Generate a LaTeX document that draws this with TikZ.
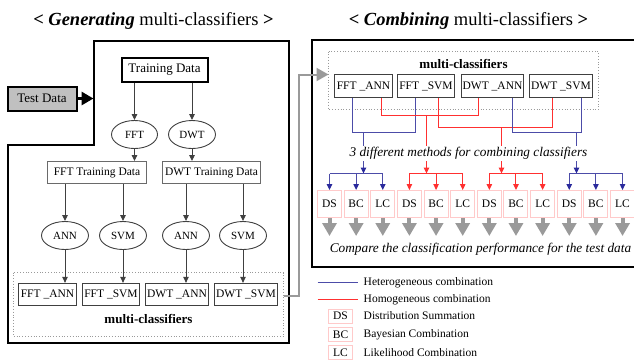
\documentclass[tikz,border=0pt]{standalone}
\usepackage{fontspec}
\setmainfont{Liberation Serif}
\usetikzlibrary{arrows.meta,shapes.geometric}

\definecolor{hetblue}{RGB}{76,76,168}
\definecolor{hettip}{RGB}{42,42,156}
\definecolor{homred}{RGB}{255,48,48}
\definecolor{pinkedge}{RGB}{255,202,202}
\definecolor{edgegray}{RGB}{64,64,64}
\definecolor{softgray}{RGB}{106,106,106}
\definecolor{flowgray}{RGB}{154,154,154}
\definecolor{testfill}{RGB}{192,192,192}

\newcommand{\fsz}[1]{\fontsize{#1}{#1}\selectfont}

\tikzset{
  outline/.style={draw=black, line width=2pt},
  mainbox/.style={draw=black, line width=2pt, inner sep=0pt, font=\fsz{13}},
  databox/.style={draw=softgray, line width=1pt, inner sep=0pt, minimum height=22pt, font=\fsz{11.5}},
  clfbox/.style={draw=edgegray, line width=1.3pt, inner sep=0pt, minimum height=22pt, font=\fsz{11.5}},
  oval/.style={ellipse, draw=edgegray, line width=0.9pt, inner sep=0pt, minimum width=47pt, minimum height=28pt, font=\fsz{11}},
  groupbox/.style={draw=flowgray, line width=0.8pt, dotted},
  flow/.style={draw=edgegray, line width=0.9pt, -{Triangle[length=6pt,width=5.5pt]}},
  hetline/.style={draw=hetblue, line width=1pt},
  homline/.style={draw=homred, line width=1pt},
  hetarrow/.style={hetline, -{Triangle[length=6pt,width=5.5pt,color=hettip]}},
  homarrow/.style={homline, -{Triangle[length=6pt,width=5.5pt]}},
  method/.style={draw=pinkedge, line width=1pt, inner sep=0pt, minimum width=24pt, minimum height=27pt, font=\fsz{11.5}},
  legendbox/.style={draw=pinkedge, line width=1pt, inner sep=0pt, minimum width=24pt, minimum height=14pt, font=\fsz{11.5}},
  legendtext/.style={anchor=west, inner sep=0pt, font=\fsz{11.5}},
  outcome/.style={draw=flowgray, line width=4pt, -{Triangle[length=13pt,width=14pt]}},
  bold/.style={font=\fsz{13}\bfseries},
  title/.style={font=\fsz{18.5}},
  remark/.style={font=\fsz{13.3}\itshape},
}

\begin{document}
\begin{tikzpicture}[x=1pt,y=-1pt]
\useasboundingbox (0,0) rectangle (634,360);
\clip (0,0) rectangle (634,360);

% half-unit offset keeps the thin rules on whole pixels
\begin{scope}[shift={(0.5,0.5)}]

% ---------- titles ----------
\node[title] (ltitle) at (153,20) {\textbf{<} \textbf{\textit{Generating}} multi-classifiers \textbf{>}};
\node[title] (rtitle) at (468,20) {\textbf{<} \textbf{\textit{Combining}} multi-classifiers \textbf{>}};

% ---------- generating stage ----------
\draw[outline] (93,40) -- (288,40) -- (288,342) -- (7,342) -- (7,144) -- (93,144) -- cycle;

\node[mainbox, fill=testfill, minimum width=69pt, minimum height=24pt] (test) at (41.5,98) {Test Data};
\coordinate (gate) at (93,98);
\draw[line width=3pt, -{Triangle[length=12pt,width=13pt]}] (test.east) -- (gate);

\node[mainbox, minimum width=86pt, minimum height=24pt] (train) at (164,69) {Training Data};

\node[oval, minimum width=46pt] (fft) at (134,134) {FFT};
\node[oval, minimum width=47pt] (dwt) at (191.5,134) {DWT};

\node[databox, minimum width=99pt] (ftd) at (96.5,172) {FFT Training Data};
\node[databox, minimum width=98pt] (dtd) at (211,172) {DWT Training Data};

\node[oval] (ann1) at (64.5,235) {ANN};
\node[oval] (svm1) at (122.5,235) {SVM};
\node[oval] (ann2) at (185.5,235) {ANN};
\node[oval] (svm2) at (242.5,235) {SVM};

\draw[groupbox] (13,272) rectangle (283,336);
\node[clfbox, minimum width=58pt] (c1) at (47,294) {FFT \_ANN};
\node[clfbox, minimum width=57pt] (c2) at (110.5,294) {FFT \_SVM};
\node[clfbox, minimum width=63pt] (c3) at (176.5,294) {DWT \_ANN};
\node[clfbox, minimum width=63pt] (c4) at (245.5,294) {DWT \_SVM};
\node[bold] (lgroup) at (148,318) {multi-classifiers};

\draw[flow] (fft |- train.south) -- (fft.north);
\draw[flow] (dwt |- train.south) -- (dwt.north);
\draw[flow] (fft.south) -- (fft |- ftd.north);
\draw[flow] (dwt.south) -- (dwt |- dtd.north);
\draw[flow] (ann1 |- ftd.south) -- (ann1.north);
\draw[flow] (svm1 |- ftd.south) -- (svm1.north);
\draw[flow] (ann2 |- dtd.south) -- (ann2.north);
\draw[flow] (svm2 |- dtd.south) -- (svm2.north);
\draw[flow] (ann1.south) -- (ann1 |- c1.north);
\draw[flow] (svm1.south) -- (svm1 |- c2.north);
\draw[flow] (ann2.south) -- (ann2 |- c3.north);
\draw[flow] (svm2.south) -- (svm2 |- c4.north);

% ---------- combining stage ----------
\draw[outline] (650,39) -- (311,39) -- (311,266) -- (650,266);

\draw[groupbox] (328,51) rectangle (598,109);
\node[bold] (rgroup) at (463,63) {multi-classifiers};
\node[clfbox, minimum width=58pt, minimum height=23pt] (r1) at (363,85.5) {FFT \_ANN};
\node[clfbox, minimum width=57pt, minimum height=23pt] (r2) at (425.5,85.5) {FFT \_SVM};
\node[clfbox, minimum width=62pt, minimum height=23pt] (r3) at (492,85.5) {DWT \_ANN};
\node[clfbox, minimum width=63pt, minimum height=23pt] (r4) at (560.5,85.5) {DWT \_SVM};

% hand-over of the classifiers
\coordinate (hand0) at (283,295);
\coordinate (hand1) at (298,295);
\coordinate (hand2) at (298,74);
\coordinate (rin) at (328,74);
\draw[draw=flowgray, line width=2pt, -{Triangle[length=12pt,width=13pt]}]
  (hand0) -- (hand1) -- (hand2) -- (rin);

% pairings of the classifiers
\coordinate (jA) at (363,132);
\coordinate (jB) at (426,115);
\coordinate (jC) at (501,127);
\coordinate (jD) at (576,132);
\draw[hetline] (r1.south -| 352,0) |- (415,132) -- (r2.south -| 415,0);
\draw[homline] (r1.south -| 381,0) |- (478,115) -- (r3.south -| 478,0);
\draw[homline] (r2.south -| 438,0) |- (552,127) -- (r4.south -| 552,0);
\draw[hetline] (r3.south -| 512,0) |- (581,132) -- (r4.south -| 581,0);

% the twelve combiners
\foreach \i/\lab in {0/DS,1/BC,2/LC,3/DS,4/BC,5/LC,6/DS,7/BC,8/LC,9/DS,10/BC,11/LC}{
  \node[method] (m\i) at ({329+26.64*\i},203.5) {\lab};
}

\coordinate (barA) at (363,173);
\coordinate (barB) at (426,173);
\coordinate (barC) at (501,173);
\coordinate (barD) at (576,173);
\draw[hetarrow] (jA) -- (barA);
\draw[homarrow] (jB) -- (barB);
\draw[homarrow] (jC) -- (barC);
\draw[hetarrow] (jD) -- (barD);

\node[remark, fill=white, inner sep=1.5pt] (methods) at (468,153)
  {3 different methods for combining classifiers};

\draw[hetline] (m0.north |- barA) -- (m2.north |- barA);
\draw[homline] (m3.north |- barB) -- (m5.north |- barB);
\draw[homline] (m6.north |- barC) -- (m8.north |- barC);
\draw[hetline] (m9.north |- barD) -- (m11.north |- barD);
\foreach \i in {0,1,2}{\draw[hetarrow] (m\i.north |- barA) -- (m\i.north);}
\foreach \i in {3,4,5}{\draw[homarrow] (m\i.north |- barB) -- (m\i.north);}
\foreach \i in {6,7,8}{\draw[homarrow] (m\i.north |- barC) -- (m\i.north);}
\foreach \i in {9,10,11}{\draw[hetarrow] (m\i.north |- barD) -- (m\i.north);}

\foreach \i in {0,...,11}{
  \coordinate (o\i) at ([yshift=-18pt]m\i.south);
  \draw[outcome] (m\i.south) -- (o\i);
}

\node[remark] (compare) at (480,249)
  {Compare the classification performance for the test data};

% ---------- legend ----------
\coordinate (lh0) at (317,282); \coordinate (lh1) at (357,282);
\coordinate (lr0) at (317,299); \coordinate (lr1) at (357,299);
\draw[hetline] (lh0) -- (lh1);
\draw[homline] (lr0) -- (lr1);
\node[legendtext] (tHet) at (363,282) {Heterogeneous combination};
\node[legendtext] (tHom) at (363,299) {Homogeneous combination};
\node[legendbox] (kDS) at (340,315.5) {DS};
\node[legendtext] (tDS) at (363,315.5) {Distribution Summation};
\node[legendbox] (kBC) at (340,334) {BC};
\node[legendtext] (tBC) at (363,334) {Bayesian Combination};
\node[legendbox] (kLC) at (340,352) {LC};
\node[legendtext] (tLC) at (363,352) {Likelihood Combination};
\end{scope}
\end{tikzpicture}
\end{document}
